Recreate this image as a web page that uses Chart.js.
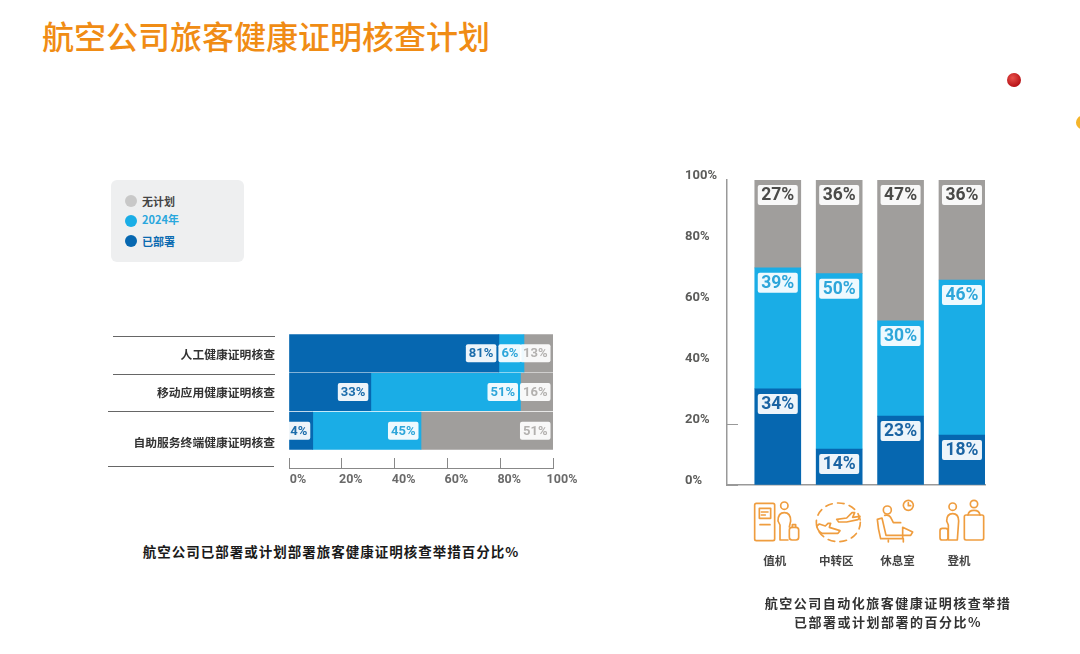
<!DOCTYPE html>
<html lang="zh-CN">
  <head>
    <meta charset="UTF-8" />
    <title>航空公司旅客健康证明核查计划</title>
    <script src="https://cdn.jsdelivr.net/npm/chart.js"></script>
    <style>
      html, body { margin: 0; padding: 0; background: #fff; }
      body {
        position: relative;
        width: 1080px;
        height: 654px;
        overflow: hidden;
        font-family: "Noto Sans CJK SC", sans-serif;
      }
      canvas, .abs { position: absolute; }
      #title {
        left: 42px; top: 12px;
        font-size: 32px; line-height: 46px; color: #f08c14; font-weight: 500;
        white-space: nowrap;
      }
      #legendBox {
        left: 111px; top: 180px; width: 133px; height: 82px;
        background: #eeeff0; border-radius: 6px;
      }
      .dot { width: 12px; height: 12px; border-radius: 50%; }
      .lg { left: 142px; font-size: 11px; line-height: 14px; font-weight: 700; white-space: nowrap; }
      .cap { font-size: 13px; line-height: 18px; font-weight: 700; text-align: center; white-space: nowrap; }
      #redBall {
        left: 1007px; top: 73px; width: 14px; height: 14px; border-radius: 50%;
        background: radial-gradient(circle at 40% 35%, #e8504a, #b81418 70%);
      }
      #yellowBall {
        left: 1076px; top: 116px; width: 12px; height: 13px; border-radius: 50%;
        background: #f5b52a;
      }
      #icons { left: 740px; top: 490px; }
    </style>
  </head>
  <body>
    <div id="title" class="abs">航空公司旅客健康证明核查计划</div>
    <div id="redBall" class="abs"></div>
    <div id="yellowBall" class="abs"></div>

    <!-- 图例 -->
    <div id="legendBox" class="abs"></div>
    <div class="abs dot" style="left:125px;top:195px;background:#c8c8c8"></div>
    <div class="abs lg" style="top:194px;color:#444">无计划</div>
    <div class="abs dot" style="left:125px;top:215px;background:#1aade6"></div>
    <div class="abs lg" style="top:212px;color:#2aa7dd">2024年</div>
    <div class="abs dot" style="left:125px;top:235px;background:#0667b0"></div>
    <div class="abs lg" style="top:234px;color:#0a6ab0">已部署</div>

    <canvas id="rowChart" width="500" height="170" style="left:100px;top:320px"></canvas>
    <canvas id="colChart" width="330" height="420" style="left:670px;top:160px"></canvas>

    <!-- 图标 -->
    <svg id="icons" class="abs" width="270" height="90" viewBox="0 0 810 270" fill="none" stroke="#ef9d3f" stroke-width="5" stroke-linecap="round" stroke-linejoin="round">
      <rect x="44" y="40" width="60" height="112" rx="5" />
      <rect x="58" y="55" width="34" height="30" />
      <path d="M64 66h20M64 75h12M60 104h30" />
      <circle cx="133" cy="47" r="11" />
      <path d="M120 150V105l-6-12q0-25 19-25t19 25l-4 18M120 150h24" />
      <rect x="148" y="112" width="28" height="38" rx="8" />
      <path d="M157 112v-8h10v8" />

      <ellipse cx="295" cy="97" rx="66" ry="58" stroke-dasharray="20 16" />
      <path d="M290 88l30-4 16-16h8l-6 14 22-3-6 10-34 7h-24z" />
      <path d="M230 108l8-6 18 6 8-8h8l-4 12 32 10-6 8h-48q-12-6-16-22z" />

      <circle cx="442" cy="60" r="12" />
      <circle cx="505" cy="46" r="15" />
      <path d="M505 38v9h7" />
      <path d="M412 88l14-4 12 52h50v-24l30 14-6 10h-24v10h-66q-8-30-10-58z" />
      <path d="M434 76q14-4 20 10l6 12h22M445 150v6M490 146v10" />

      <circle cx="638" cy="50" r="11" />
      <path d="M625 150V105l-5-12q0-22 18-22t18 22l-4 57h-27" />
      <rect x="600" y="115" width="24" height="35" rx="7" />
      <circle cx="702" cy="42" r="11" />
      <rect x="673" y="75" width="58" height="75" rx="5" />
      <path d="M684 75q2-14 18-14t18 14" />
    </svg>

    <div class="abs cap" style="left:131px;top:542px;width:400px;font-size:13.5px;letter-spacing:1px;color:#1a1a1a">航空公司已部署或计划部署旅客健康证明核查举措百分比%</div>
    <div class="abs cap" style="left:738px;top:594px;width:300px;letter-spacing:1.5px;color:#333">航空公司自动化旅客健康证明核查举措</div>
    <div class="abs cap" style="left:738px;top:613px;width:300px;letter-spacing:1.5px;color:#333">已部署或计划部署的百分比%</div>

    <script>
      // 横向图：分段长度按图上实测，文字按图上印刷的标注
      const rowCategories = ["人工健康证明核查", "移动应用健康证明核查", "自助服务终端健康证明核查"];
      const rowDeployed = [79.5, 31, 9];
      const rowPlanned = [9.5, 56.7, 41];
      const rowNoPlan = [11, 12.3, 50];
      const rowDeployedText = ["81%", "33%", "4%"];
      const rowPlannedText = ["6%", "51%", "45%"];
      const rowNoPlanText = ["13%", "16%", "51%"];
      const rowTicks = [0, 20, 40, 60, 80, 100];

      // 纵向图
      const colCategories = ["值机", "中转区", "休息室", "登机"];
      const colDeployed = [31.5, 11.8, 22.6, 16.4];
      const colPlanned = [39.7, 57.5, 31.2, 50.8];
      const colNoPlan = [28.8, 30.7, 46.2, 32.8];
      const colDeployedText = ["34%", "14%", "23%", "18%"];
      const colPlannedText = ["39%", "50%", "30%", "46%"];
      const colNoPlanText = ["27%", "36%", "47%", "36%"];

      const DARK = "#0667b0";
      const LIGHT = "#1aade6";
      const GREY = "#a09e9c";
      const CJK = '"Noto Sans CJK SC", sans-serif';
      const LATIN = 'Roboto, "Noto Sans", sans-serif';

      // 固定轴的占位，不让刻度文字挤占绘图区
      function fixAxis(axis, size) {
        if (axis.isHorizontal()) axis.height = size;
        else axis.width = size;
        axis.paddingLeft = axis.paddingRight = axis.paddingTop = axis.paddingBottom = 0;
      }

      // 白底圆角数值标签
      const segmentLabels = {
        id: "segmentLabels",
        afterDatasetsDraw(chart, args, opts) {
          const ctx = chart.ctx;
          ctx.save();
          ctx.font = opts.font;
          ctx.textAlign = "center";
          ctx.textBaseline = "middle";
          chart.data.datasets.forEach((ds, d) => {
            chart.getDatasetMeta(d).data.forEach((el, i) => {
              const text = ds.texts[i];
              const w = opts.boxWidth || ctx.measureText(text).width + 6;
              const h = opts.boxHeight;
              const cx = opts.horizontal ? el.x - 2.5 - w / 2 : el.x;
              const cy = opts.horizontal ? el.y : el.y + 15;
              ctx.fillStyle = "rgba(255,255,255,0.93)";
              ctx.beginPath();
              ctx.roundRect(cx - w / 2, cy - h / 2, w, h, 2);
              ctx.fill();
              ctx.fillStyle = ds.textColor;
              ctx.fillText(text, cx, cy + 0.5);
            });
          });
          ctx.restore();
        },
      };

      // 左侧行分隔线
      const rowRules = {
        id: "rowRules",
        afterDraw(chart) {
          const ctx = chart.ctx;
          const y = chart.scales.y;
          const lines = [
            [13, 175, y.getPixelForValue(-0.5) + 2],
            [13, 175, y.getPixelForValue(0.5) + 1],
            [8, 174, y.getPixelForValue(1.5)],
            [8, 174, chart.chartArea.bottom - 2],
          ];
          ctx.save();
          ctx.strokeStyle = "#666";
          ctx.lineWidth = 1;
          lines.forEach(([a, b, py]) => {
            ctx.beginPath();
            ctx.moveTo(a, Math.round(py) + 0.5);
            ctx.lineTo(b, Math.round(py) + 0.5);
            ctx.stroke();
          });
          ctx.restore();
        },
      };

      new Chart(document.getElementById("rowChart"), {
        type: "bar",
        data: {
          labels: [0, 1, 2],
          datasets: [
            { data: rowDeployed, backgroundColor: DARK, texts: rowDeployedText, textColor: "#1b6cab" },
            { data: rowPlanned, backgroundColor: LIGHT, texts: rowPlannedText, textColor: "#2ea6da" },
            { data: rowNoPlan, backgroundColor: GREY, texts: rowNoPlanText, textColor: "#b3b1af" },
          ],
        },
        options: {
          indexAxis: "y",
          responsive: false,
          animation: false,
          datasets: { bar: { barThickness: 37.4 } },
          layout: { padding: { top: 14, right: 47, left: 0, bottom: 0 } },
          plugins: {
            legend: { display: false },
            tooltip: { enabled: false },
            segmentLabels: { font: "700 13px " + LATIN, boxHeight: 18, horizontal: true },
          },
          scales: {
            x: {
              stacked: true,
              min: 0,
              max: 100,
              afterBuildTicks: (axis) => { axis.ticks = rowTicks.map((value) => ({ value })); },
              afterFit: (axis) => fixAxis(axis, 22),
              border: { color: "#888", width: 1 },
              grid: { drawOnChartArea: false, tickLength: -10, tickColor: "#888" },
              ticks: {
                padding: 14,
                labelOffset: 9,
                maxRotation: 0,
                color: "#6a6a6a",
                font: { family: LATIN, size: 12.5, weight: "700" },
                callback: (v) => v + "%",
              },
            },
            y: {
              type: "linear",
              stacked: true,
              reverse: true,
              offset: false,
              min: -0.5,
              max: 2.96,
              afterBuildTicks: (axis) => { axis.ticks = [0.04, 1, 2.3].map((value) => ({ value })); },
              afterFit: (axis) => fixAxis(axis, 189),
              border: { display: false },
              grid: { display: false, drawTicks: false, offset: false },
              ticks: {
                padding: 14,
                color: "#333",
                font: { family: CJK, size: 11.8, weight: "700" },
                callback: (v, i) => rowCategories[i],
              },
            },
          },
        },
        plugins: [segmentLabels, rowRules],
      });

      new Chart(document.getElementById("colChart"), {
        type: "bar",
        data: {
          labels: [0, 1, 2, 3],
          datasets: [
            { data: colDeployed, backgroundColor: DARK, texts: colDeployedText, textColor: "#1b64a3" },
            { data: colPlanned, backgroundColor: LIGHT, texts: colPlannedText, textColor: "#2ea6da" },
            { data: colNoPlan, backgroundColor: GREY, texts: colNoPlanText, textColor: "#4a4a48" },
          ],
        },
        options: {
          responsive: false,
          animation: false,
          datasets: { bar: { barThickness: 46 } },
          layout: { padding: { top: 20, right: 15, left: 15, bottom: 0 } },
          plugins: {
            legend: { display: false },
            tooltip: { enabled: false },
            segmentLabels: { font: "700 17.5px " + LATIN, boxWidth: 40, boxHeight: 20 },
          },
          scales: {
            x: {
              type: "linear",
              stacked: true,
              offset: false,
              min: -0.827,
              max: 3.375,
              afterBuildTicks: (axis) => { axis.ticks = [0, 1, 2, 3].map((value) => ({ value })); },
              afterFit: (axis) => fixAxis(axis, 95),
              border: { color: "#999", width: 1.5 },
              grid: { display: true, drawOnChartArea: false, drawTicks: false, offset: false },
              ticks: {
                padding: 69,
                labelOffset: -3,
                maxRotation: 0,
                color: "#444",
                font: { family: CJK, size: 11.5, weight: "700" },
                callback: (v) => colCategories[v],
              },
            },
            y: {
              stacked: true,
              min: 0,
              max: 100,
              afterFit: (axis) => fixAxis(axis, 42),
              border: { color: "#999", width: 1.5 },
              grid: {
                drawOnChartArea: false,
                tickLength: -11,
                tickColor: (c) => (c.tick && c.tick.value <= 20 ? "#999" : "rgba(0,0,0,0)"),
              },
              ticks: {
                stepSize: 20,
                padding: 0,
                labelOffset: -4,
                crossAlign: "far",
                color: "#5c5c5a",
                font: { family: LATIN, size: 13, weight: "700" },
                callback: (v) => v + "%",
              },
            },
          },
        },
        plugins: [segmentLabels],
      });
    </script>
  </body>
</html>
